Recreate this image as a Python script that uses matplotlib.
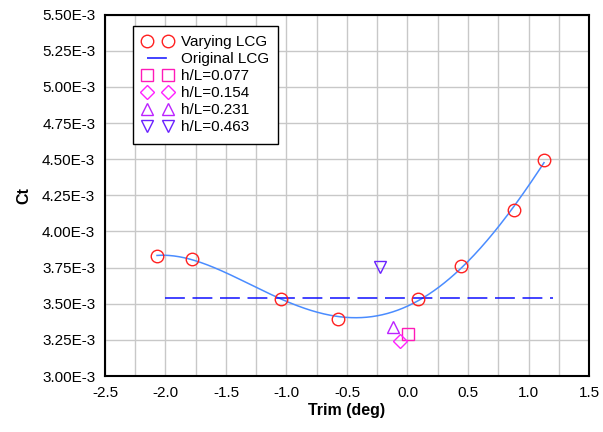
import numpy as np
import matplotlib
matplotlib.use("Agg")
import matplotlib.pyplot as plt
from matplotlib.ticker import MultipleLocator, FuncFormatter

plt.rcParams['font.family'] = ['Liberation Sans', 'DejaVu Sans']

# Data
trim_varying = [-2.07, -1.78, -1.045, -0.577, 0.084, 0.445, 0.883, 1.128]
ct_varying = [3.829e-3, 3.813e-3, 3.535e-3, 3.394e-3, 3.535e-3, 3.760e-3, 4.146e-3, 4.492e-3]
orig_trim = [-2.0, 1.2]
orig_ct = [3.537e-3, 3.537e-3]
hl_labels = ["h/L=0.077", "h/L=0.154", "h/L=0.231", "h/L=0.463"]
hl_trim = [0.007, -0.06, -0.122, -0.227]
hl_ct = [3.288e-3, 3.242e-3, 3.336e-3, 3.755e-3]
hl_markers = ["s", "D", "^", "v"]
hl_colors = ["#ff1ab8", "#ff22ff", "#bb22ff", "#6a22ff"]
hl_sizes = [9, 7, 9, 9]

fig = plt.figure(figsize=(6.03, 4.32), dpi=100)
ax = fig.add_axes([0.1741, 0.1296, 0.8027, 0.8364])

# trend curve (polynomial fit of varying LCG data)
coef = np.polyfit(trim_varying, ct_varying, 4)
xs = np.linspace(min(trim_varying), max(trim_varying), 300)
ax.plot(xs, np.polyval(coef, xs), color="#4a8cff", lw=1.1, zorder=3)

ax.plot(trim_varying, ct_varying, ls="none", marker="o", ms=9, mfc="none",
        mec="#ff2020", mew=1.0, label="Varying LCG", zorder=4)
ax.plot(orig_trim, orig_ct, color="#1010ff", lw=1.1, ls=(0, (13, 5)),
        label="Original LCG", zorder=3)
for t, c, m, col, lab, s in zip(hl_trim, hl_ct, hl_markers, hl_colors, hl_labels, hl_sizes):
    ax.plot([t], [c], ls="none", marker=m, ms=s, mfc="none", mec=col, mew=1.0,
            label=lab, zorder=4)

ax.set_xlim(-2.5, 1.5)
ax.set_ylim(3.0e-3, 5.5e-3)
ax.xaxis.set_major_locator(MultipleLocator(0.5))
ax.xaxis.set_minor_locator(MultipleLocator(0.25))
ax.yaxis.set_major_locator(MultipleLocator(0.25e-3))
ax.xaxis.set_major_formatter(FuncFormatter(lambda v, p: f"{v:.1f}"))
ax.yaxis.set_major_formatter(FuncFormatter(lambda v, p: f"{v*1000:.2f}E-3"))
ax.grid(True, which="major", color="#c8c8c8", lw=1.0)
ax.grid(True, which="minor", axis="x", color="#c8c8c8", lw=1.0)
ax.set_axisbelow(True)
ax.tick_params(which="both", length=0, labelsize=11, pad=7)
for sp in ax.spines.values():
    sp.set_linewidth(1.5)
    sp.set_color("black")

ax.set_xlabel("Trim (deg)", fontsize=11.5, fontweight="bold", labelpad=2)
ax.set_ylabel("Ct", fontsize=11.5, fontweight="bold", labelpad=8)

leg = ax.legend(loc="upper left", bbox_to_anchor=(0.0585, 0.969), borderaxespad=0,
                numpoints=2, fontsize=11, frameon=True, fancybox=False,
                edgecolor="black", framealpha=1, handlelength=2.0,
                labelspacing=0.2, borderpad=0.6, handletextpad=0.5)
leg.get_frame().set_linewidth(1.0)

fig.savefig("out.png", dpi=100)
